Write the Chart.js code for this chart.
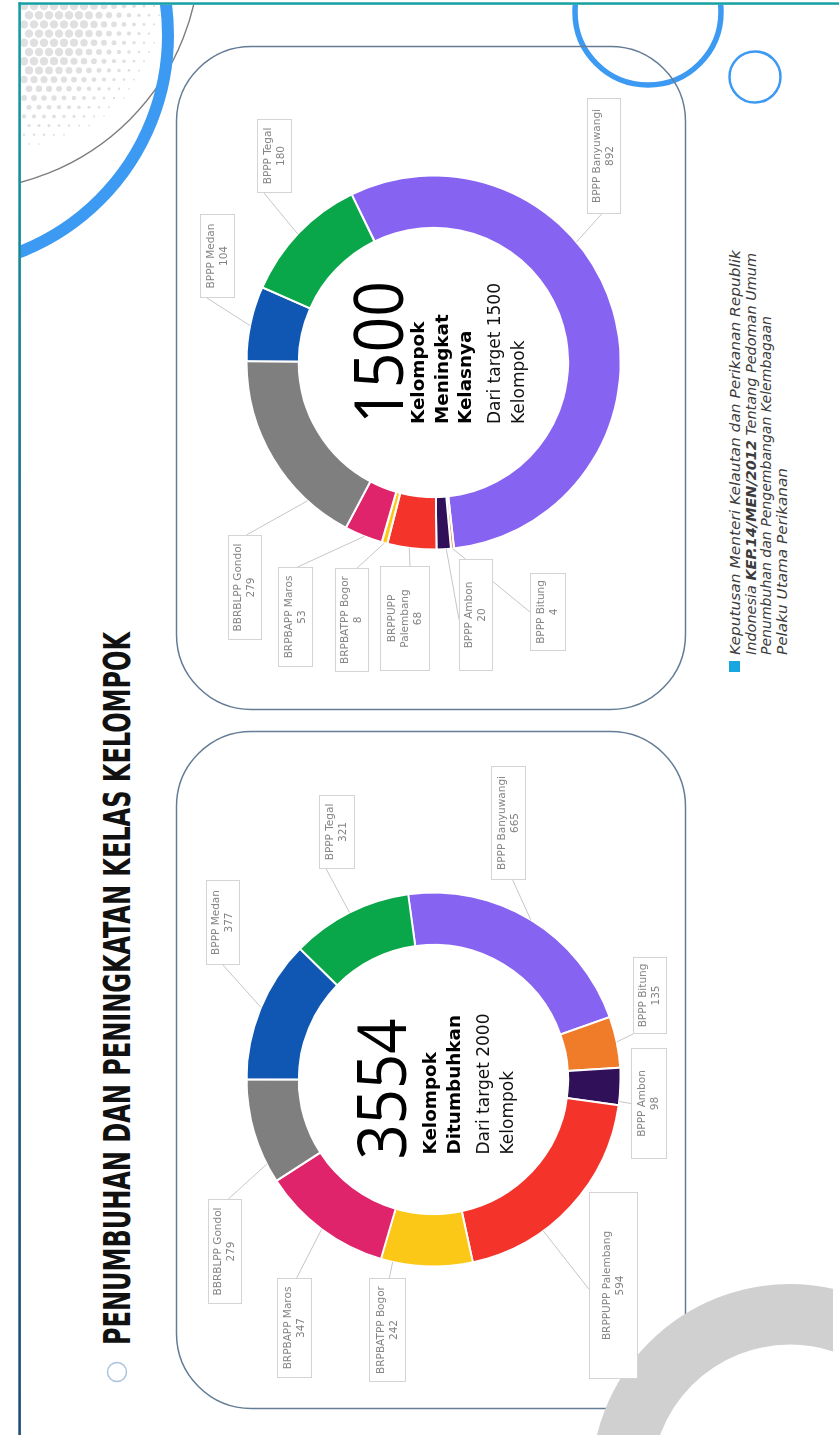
<!DOCTYPE html>
<html>
<head>
<meta charset="utf-8">
<script src="https://cdn.jsdelivr.net/npm/chart.js@4.4.1/dist/chart.umd.min.js"></script>
<style>
html,body{margin:0;padding:0;width:839px;height:1435px;overflow:hidden;background:#ffffff;}
#deco{position:absolute;left:0;top:0;}
#slide{position:absolute;left:0;top:0;width:1435px;height:839px;transform-origin:0 0;transform:translate(0px,1435px) rotate(-90deg);}
#slide canvas{position:absolute;}
#slideText{position:absolute;left:0;top:0;}
</style>
</head>
<body>
<svg id="deco" width="839" height="1435"></svg>
<div id="slide">
  <svg id="slideText" width="1435" height="839"></svg>
  <canvas id="chartGrown" width="678" height="510" style="left:26px;top:176px;width:678px;height:510px"></canvas>
  <canvas id="chartUpgraded" width="664" height="510" style="left:725px;top:176px;width:664px;height:510px"></canvas>
</div>
<script>
// ---------- DATA ----------
const categories = ['BPPP Banyuwangi','BPPP Bitung','BPPP Ambon','BRPPUPP Palembang','BRPBATPP Bogor','BRPBAPP Maros','BBRBLPP Gondol','BPPP Medan','BPPP Tegal'];
const grownValues = [665, 135, 98, 594, 242, 347, 279, 377, 321];
const upgradedValues = [892, 4, 20, 68, 8, 53, 279, 104, 180];
const grownNumber = '3554';
const grownBold = ['Kelompok', 'Ditumbuhkan'];
const grownRegular = ['Dari target 2000', 'Kelompok'];
const upgradedNumber = '1500';
const upgradedBold = ['Kelompok', 'Meningkat', 'Kelasnya'];
const upgradedRegular = ['Dari target 1500', 'Kelompok'];
const titleText = 'PENUMBUHAN DAN PENINGKATAN KELAS KELOMPOK';
const noteLines = [
  ['Keputusan Menteri Kelautan dan Perikanan Republik'],
  ['Indonesia ', 'KEP.14/MEN/2012', ' Tentang Pedoman Umum'],
  ['Penumbuhan dan Pengembangan Kelembagaan'],
  ['Pelaku Utama Perikanan']
];

// ---------- STYLES ----------
const sliceColors = ['#8763f1','#f07c2a','#2f1059','#f4332b','#fcc817','#e0246b','#7f7f7f','#0f57b3','#0aa74a'];
const noteLengths = [405, 402, 339, 187];

// callout layout: box [dx, dy, w, h] relative to chart centre, anchor on box (fx, fy), position along slice (frac)
const grownLayout = [
  {box:[199, 57, 114, 35], anchor:[0, 0.62], frac:0.5},
  {box:[45, 199, 77, 34], anchor:[0, 0], frac:0.5},
  {box:[-80, 197, 111, 36], anchor:[0.5, 0], frac:0.9},
  {box:[-300, 155, 187, 49], anchor:[0.48, 0], frac:0.66},
  {box:[-303, -65, 104, 37], anchor:[1, 0.55], frac:0.87},
  {box:[-299, -157, 100, 35], anchor:[1, 0.56], frac:0.5},
  {box:[-225, -226, 105, 34], anchor:[1, 0.6], frac:0.18},
  {box:[114, -228, 85, 34], anchor:[0, 0.5], frac:0.51},
  {box:[210, -115, 74, 36], anchor:[0, 0.2], frac:0.5}
];
const upgradedLayout = [
  {box:[148, 153, 116, 34], anchor:[0, 0.43], frac:0.38},
  {box:[-289, 96, 78, 36], anchor:[0.5, 0], frac:0.5},
  {box:[-309, 25, 112, 34], anchor:[0.46, 0], frac:0.33},
  {box:[-309, -54, 105, 50], anchor:[1, 0.6], frac:0.55, split:true},
  {box:[-310, -99, 104, 34], anchor:[1, 0.65], frac:0.5},
  {box:[-305, -156, 100, 35], anchor:[1, 0.56], frac:0.47},
  {box:[-278, -206, 105, 34], anchor:[1, 0.54], frac:0.23},
  {box:[64, -234, 84, 35], anchor:[0, 0.2], frac:0.47},
  {box:[169, -177, 74, 35], anchor:[0, 0.2], frac:0.49}
];

// ---------- DECORATION (page coordinates) ----------
(function(){
  let s = '<defs>' +
    '<clipPath id="fc"><rect x="20.5" y="4.8" width="812.5" height="1431"/></clipPath>' +
    '<linearGradient id="lg" x1="0" y1="0" x2="0" y2="1"><stop offset="0" stop-color="#149fa3"/><stop offset="0.35" stop-color="#1a6f8c"/><stop offset="1" stop-color="#1d4d78"/></linearGradient>' +
    '</defs><g clip-path="url(#fc)">';
  // halftone dots
  for (let j = 0; j < 22; j++) {
    const y = 6 + j * 9.2;
    for (let i = 0; i < 14; i++) {
      const x = 24 + i * 10 + (j % 2 ? 5 : 0);
      const d = Math.hypot(x - 15, y);
      const r = 4.2 * Math.min(1, Math.max(0, (165 - d) / 95));
      if (r < 0.8) continue;
      if (Math.hypot(x + 40, y + 50) > 234) continue;
      s += `<circle cx="${x}" cy="${y.toFixed(1)}" r="${r.toFixed(2)}" fill="#e0e0e0"/>`;
    }
  }
  s += '<circle cx="-40" cy="-50" r="240" fill="none" stroke="#7d7d7d" stroke-width="1.4"/>';
  s += '<circle cx="-65" cy="35" r="233" fill="none" stroke="#3d9af2" stroke-width="12"/>';
  s += '<circle cx="648" cy="12" r="73" fill="none" stroke="#3d9af2" stroke-width="5.5"/>';
  s += '<circle cx="755" cy="77" r="25.5" fill="none" stroke="#3d9af2" stroke-width="2.5"/>';
  s += '<rect x="176.5" y="46.5" width="509" height="663" rx="75" ry="75" fill="none" stroke="#647c95" stroke-width="1.5"/>';
  s += '<rect x="176.5" y="731.5" width="509" height="677" rx="75" ry="75" fill="none" stroke="#647c95" stroke-width="1.5"/>';
  s += '<circle cx="790" cy="1483" r="168.7" fill="none" stroke="#d0d0d0" stroke-width="60.5"/>';
  s += '<circle cx="117" cy="1372" r="9.5" fill="none" stroke="#a9c4dc" stroke-width="1.5"/>';
  s += '</g>';
  s += '<rect x="18.5" y="2.3" width="820.5" height="2.5" fill="#15a0a3"/>';
  s += '<rect x="18.3" y="2.3" width="2.6" height="1433" fill="url(#lg)"/>';
  document.getElementById('deco').innerHTML = s;
})();

// ---------- SLIDE TEXT (slide coordinates) ----------
(function(){
  let s = `<text x="90" y="130" font-family="DejaVu Sans Condensed, DejaVu Sans" font-weight="bold" font-size="37" textLength="713" lengthAdjust="spacingAndGlyphs" fill="#111">${titleText}</text>`;
  s += '<rect x="763" y="729" width="11" height="11" fill="#17a6e0"/>';
  const baselines = [740, 755.5, 771, 787];
  noteLines.forEach((parts, k) => {
    let t = `<text x="780" y="${baselines[k]}" font-family="DejaVu Sans" font-style="italic" font-size="14.5" fill="#3c3c3c" textLength="${noteLengths[k]}" lengthAdjust="spacingAndGlyphs">`;
    parts.forEach((p, m) => {
      const bold = (parts.length === 3 && m === 1);
      t += `<tspan${bold ? ' font-weight="bold"' : ''} xml:space="preserve">${p}</tspan>`;
    });
    t += '</text>';
    s += t;
  });
  document.getElementById('slideText').innerHTML = s;
})();

// ---------- PLUGINS ----------
function calloutPlugin(layout) {
  return {
    id: 'callouts',
    afterDatasetsDraw(chart) {
      const ctx = chart.ctx;
      const meta = chart.getDatasetMeta(0);
      const labels = chart.data.labels;
      const values = chart.data.datasets[0].data;
      ctx.save();
      meta.data.forEach((arc, i) => {
        const p = arc.getProps(['x','y','startAngle','endAngle','outerRadius'], true);
        const L = layout[i];
        const a = p.startAngle + L.frac * (p.endAngle - p.startAngle);
        const ex = p.x + Math.cos(a) * p.outerRadius;
        const ey = p.y + Math.sin(a) * p.outerRadius;
        const bx = Math.round(p.x + L.box[0]), by = Math.round(p.y + L.box[1]);
        const bw = L.box[2], bh = L.box[3];
        const ax = bx + L.anchor[0] * bw, ay = by + L.anchor[1] * bh;
        ctx.strokeStyle = '#c6c6c6';
        ctx.lineWidth = 1;
        ctx.beginPath(); ctx.moveTo(ax, ay); ctx.lineTo(ex, ey); ctx.stroke();
        ctx.fillStyle = '#ffffff';
        ctx.fillRect(bx, by, bw, bh);
        ctx.strokeStyle = '#d4d4d4';
        ctx.strokeRect(bx + 0.5, by + 0.5, bw - 1, bh - 1);
        const lines = (L.split ? labels[i].split(' ') : [labels[i]]).concat([String(values[i])]);
        ctx.fillStyle = '#858585';
        ctx.font = '10.5px "DejaVu Sans"';
        ctx.textAlign = 'center';
        ctx.textBaseline = 'middle';
        const lh = 13;
        const cy = by + bh / 2 - (lines.length - 1) * lh / 2;
        lines.forEach((t, k) => ctx.fillText(t, bx + bw / 2, cy + k * lh));
      });
      ctx.restore();
    }
  };
}

function centerPlugin(number, numLeft, numBase, numWidth, boldLines, regLines, left, baselines) {
  return {
    id: 'centerText',
    afterDraw(chart) {
      const ctx = chart.ctx;
      const arc = chart.getDatasetMeta(0).data[0];
      const cx = arc.x, cy = arc.y;
      ctx.save();
      ctx.fillStyle = '#000';
      ctx.textAlign = 'left';
      ctx.textBaseline = 'alphabetic';
      ctx.font = '400 68px "Open Sans"';
      const w = ctx.measureText(number).width;
      ctx.save();
      ctx.translate(cx + numLeft, cy + numBase);
      ctx.scale(numWidth / w, 1);
      ctx.fillText(number, 0, 0);
      ctx.restore();
      let k = 0;
      ctx.font = 'bold 17px "DejaVu Sans"';
      boldLines.forEach(t => {
        ctx.save();
        ctx.translate(cx + left, cy + baselines[k++]);
        ctx.scale(1.08, 1);
        ctx.fillText(t, 0, 0);
        ctx.restore();
      });
      ctx.font = '17px "DejaVu Sans"';
      ctx.fillStyle = '#111';
      regLines.forEach(t => { ctx.fillText(t, cx + left, cy + baselines[k++]); });
      ctx.restore();
    }
  };
}

function makeChart(id, values, rotation, padding, layout, center) {
  return new Chart(document.getElementById(id), {
    type: 'doughnut',
    data: {
      labels: categories,
      datasets: [{
        data: values,
        backgroundColor: sliceColors,
        borderColor: '#ffffff',
        borderWidth: 2,
        hoverOffset: 0,
        hoverBorderWidth: 2
      }]
    },
    options: {
      responsive: false,
      animation: false,
      events: [],
      rotation: rotation,
      cutout: '72%',
      radius: 187,
      layout: { padding: padding },
      plugins: { legend: { display: false }, tooltip: { enabled: false } }
    },
    plugins: [calloutPlugin(layout), center]
  });
}

makeChart('chartGrown', grownValues, 82.2,
  {left: 142, right: 161, top: 70, bottom: 65}, grownLayout,
  centerPlugin(grownNumber, -80, -27.5, 141, grownBold, grownRegular, -75, [2, 26, 55, 79]));

makeChart('chartUpgraded', upgradedValues, 64,
  {left: 160, right: 129, top: 70, bottom: 65}, upgradedLayout,
  centerPlugin(upgradedNumber, -61.5, -30.5, 143, upgradedBold, upgradedRegular, -61.5, [-9.5, 14.5, 37.5, 66.5, 90.5]));
</script>
</body>
</html>
